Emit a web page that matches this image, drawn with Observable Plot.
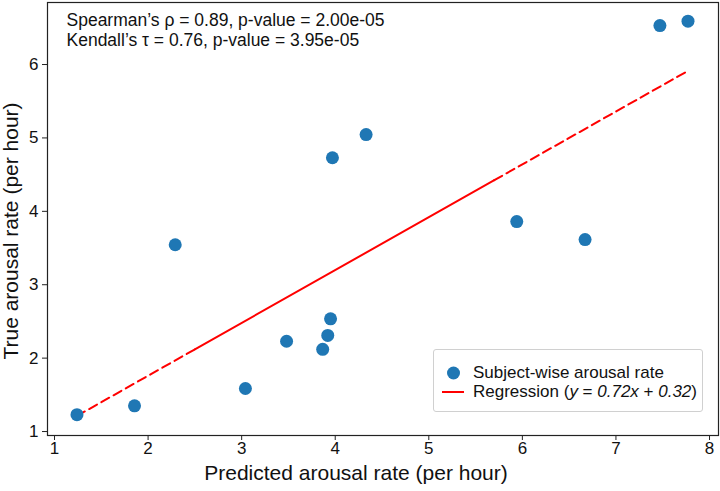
<!DOCTYPE html>
<html><head><meta charset="utf-8">
<script src="https://cdn.jsdelivr.net/npm/d3@7"></script>
<script src="https://cdn.jsdelivr.net/npm/@observablehq/plot@0.6"></script>
<style>
body{margin:0;background:#fff;font-family:"Liberation Sans",Arial,sans-serif;}
#wrap{position:relative;width:720px;height:491px;}
#legend{position:absolute;left:433px;top:349px;width:268px;height:61px;border:1px solid #d0d0d0;border-radius:3px;background:rgba(255,255,255,0.85);font-size:17px;color:#111;}
.row{position:absolute;left:0;height:20px;line-height:20px;}
.row span.t{position:absolute;left:39px;white-space:nowrap;}
</style></head>
<body><div id="wrap"><div id="legend"></div></div>
<script>
const predicted = [1.24, 1.855, 2.29, 3.04, 3.48, 3.866, 3.92, 3.95, 3.97, 4.33, 5.94, 6.67, 7.47, 7.77];
const actual    = [1.23, 1.35, 3.545, 1.586, 2.23, 2.12, 2.31, 2.535, 4.73, 5.045, 3.86, 3.615, 6.53, 6.59];
const slope = 0.72, intercept = 0.32;
const lineBreaks = [1.24, 2.5, 5.7, 7.77];
const xTicks = [1,2,3,4,5,6,7,8];
const yTicks = [1,2,3,4,5,6];
const statLines = ["Spearman\u2019s \u03c1 = 0.89, p-value = 2.00e-05", "Kendall\u2019s \u03c4 = 0.76, p-value = 3.95e-05"];
const legendLabels = ["Subject-wise arousal rate", "Regression (<i>y</i> = <i>0.72x</i> + <i>0.32</i>)"];

const pts = predicted.map((x,i)=>({x, y: actual[i]}));
const seg = (a,b)=>[{x:a,y:slope*a+intercept},{x:b,y:slope*b+intercept}];
const dash1 = seg(lineBreaks[0], lineBreaks[1]);
const solid = seg(lineBreaks[1], lineBreaks[2]);
const dash2 = seg(lineBreaks[2], lineBreaks[3]);
const fmt = d=>String(d);

const chart = Plot.plot({
  width: 720, height: 491,
  marginLeft: 47, marginRight: 2, marginTop: 2, marginBottom: 56,
  style: {fontFamily: '"Liberation Sans", Arial, sans-serif', fontSize: "17px", color: "#111", background: "#fff"},
  x: {domain: [0.925, 8.096], label: null},
  y: {domain: [0.946, 6.845], label: null},
  marks: [
    Plot.frame({stroke: "#222", strokeWidth: 1.2}),
    Plot.axisX({ticks: xTicks, tickFormat: fmt, tickSize: 5, tickPadding: 1, fontSize: 17, stroke: "#222", label: null}),
    Plot.axisY({ticks: yTicks, tickFormat: fmt, tickSize: 5, tickPadding: 4, fontSize: 17, stroke: "#222", label: null}),
    Plot.line(dash1, {x:"x", y:"y", stroke:"#ff0000", strokeWidth: 2, strokeDasharray: "9,5"}),
    Plot.line(solid, {x:"x", y:"y", stroke:"#ff0000", strokeWidth: 2}),
    Plot.line(dash2, {x:"x", y:"y", stroke:"#ff0000", strokeWidth: 2, strokeDasharray: "9,5"}),
    Plot.dot(pts, {x:"x", y:"y", r: 6.5, fill:"#1f77b4", stroke:"none"}),
    Plot.text([statLines.join("\n")], {frameAnchor:"top-left", dx: 19, dy: 9, fontSize: 17.5, fill:"#111", lineHeight: 1.15, textAnchor:"start"}),
    Plot.text(["Predicted arousal rate (per hour)"], {frameAnchor:"bottom", dx: -27, dy: 44, fontSize: 21, fill:"#111"}),
    Plot.text(["True arousal rate (per hour)"], {frameAnchor:"left", dx: -36, dy: 12, rotate: -90, textAnchor: "middle", fontSize: 21, fill:"#111"})
  ]
});
document.getElementById("wrap").prepend(chart);

const leg = document.getElementById("legend");
leg.innerHTML =
 `<div class="row" style="top:13px;width:268px"><svg width="40" height="20" style="position:absolute;left:0;top:0"><circle cx="19.5" cy="10" r="6.5" fill="#1f77b4"/></svg><span class="t">${legendLabels[0]}</span></div>` +
 `<div class="row" style="top:32px;width:268px"><svg width="40" height="20" style="position:absolute;left:0;top:0"><line x1="8" x2="30" y1="10" y2="10" stroke="#ff0000" stroke-width="2"/></svg><span class="t">${legendLabels[1]}</span></div>`;
</script>
</body></html>
